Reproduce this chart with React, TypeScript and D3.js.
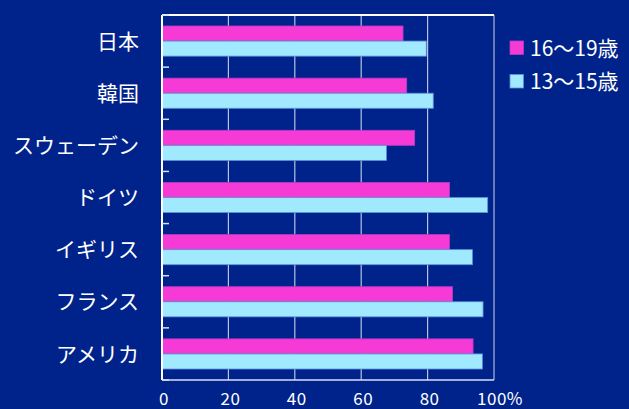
import React, { useEffect, useRef } from "react";
import * as d3 from "d3";

const countries: string[] = ["日本", "韓国", "スウェーデン", "ドイツ", "イギリス", "フランス", "アメリカ"];
const age16to19: number[] = [72.6, 73.7, 76.1, 86.6, 86.6, 87.5, 93.7];
const age13to15: number[] = [79.6, 81.7, 67.6, 98.1, 93.5, 96.7, 96.5];
const seriesNames: string[] = ["16〜19歳", "13〜15歳"];
const xTicks: number[] = [0, 20, 40, 60, 80, 100];

const colors = ["#f53ad6", "#a0e9ff"];
const strokes = ["#b23cc8", "#5f8fd8"];
const bg = "#00238b";
const font = "'Noto Sans CJK JP', 'Noto Sans', sans-serif";

const App: React.FC = () => {
  const ref = useRef<SVGSVGElement>(null);

  useEffect(() => {
    if (!ref.current) return;
    const width = 629;
    const height = 409;
    const margin = { top: 15, right: 135, bottom: 29, left: 162 };
    const svg = d3.select(ref.current);
    svg.selectAll("*").remove();

    svg.append("rect").attr("width", width).attr("height", height).attr("fill", bg);

    const x = d3.scaleLinear().domain([0, 100]).range([margin.left, width - margin.right]);
    const y = d3
      .scaleBand<string>()
      .domain(countries)
      .range([margin.top, height - margin.bottom]);
    const inner = d3
      .scaleBand<string>()
      .domain(seriesNames)
      .range([0, y.bandwidth()])
      .paddingOuter(0.73)
      .paddingInner(0);

    // grid lines
    svg
      .selectAll("line.grid")
      .data(xTicks.slice(1, -1))
      .enter()
      .append("line")
      .attr("x1", (d) => x(d))
      .attr("x2", (d) => x(d))
      .attr("y1", margin.top)
      .attr("y2", height - margin.bottom)
      .attr("stroke", "#b8c0e0")
      .attr("stroke-width", 1.2);

    // right border
    svg
      .append("line")
      .attr("x1", x(100))
      .attr("x2", x(100))
      .attr("y1", margin.top)
      .attr("y2", height - margin.bottom)
      .attr("stroke", "#8a98c8")
      .attr("stroke-width", 1.5);

    const series = [age16to19, age13to15];
    series.forEach((vals, si) => {
      svg
        .selectAll(`rect.s${si}`)
        .data(vals)
        .enter()
        .append("rect")
        .attr("x", x(0))
        .attr("y", (d, i) => (y(countries[i]) as number) + (inner(seriesNames[si]) as number))
        .attr("width", (d) => x(d) - x(0))
        .attr("height", inner.bandwidth())
        .attr("fill", colors[si])
        .attr("stroke", strokes[si])
        .attr("stroke-width", 0.8);
    });

    // top border and bottom border
    svg
      .append("line")
      .attr("x1", x(0))
      .attr("x2", x(100))
      .attr("y1", margin.top)
      .attr("y2", margin.top)
      .attr("stroke", "#ffffff")
      .attr("stroke-width", 2);
    svg
      .append("line")
      .attr("x1", x(0))
      .attr("x2", x(100))
      .attr("y1", height - margin.bottom)
      .attr("y2", height - margin.bottom)
      .attr("stroke", "#d8def0")
      .attr("stroke-width", 1.5);

    // left axis
    svg
      .append("line")
      .attr("x1", x(0))
      .attr("x2", x(0))
      .attr("y1", margin.top)
      .attr("y2", height - margin.bottom)
      .attr("stroke", "#ffffff")
      .attr("stroke-width", 2);
    const tickYs = countries.map((c) => y(c) as number).concat([height - margin.bottom]);
    svg
      .selectAll("line.ytick")
      .data(tickYs)
      .enter()
      .append("line")
      .attr("x1", x(0))
      .attr("x2", x(0) + 7)
      .attr("y1", (d) => d)
      .attr("y2", (d) => d)
      .attr("stroke", "#d8def0")
      .attr("stroke-width", 1.5);

    // category labels
    svg
      .selectAll("text.cat")
      .data(countries)
      .enter()
      .append("text")
      .attr("x", x(0) - 23)
      .attr("y", (d) => (y(d) as number) + y.bandwidth() / 2 + 2)
      .attr("text-anchor", "end")
      .attr("dominant-baseline", "middle")
      .attr("fill", "#ffffff")
      .style("font-family", font)
      .style("font-size", "21px")
      .text((d) => d);

    // x tick labels
    svg
      .selectAll("text.xt")
      .data(xTicks)
      .enter()
      .append("text")
      .attr("x", (d) => x(d) + (d === 100 ? 6 : 2))
      .attr("y", height - 4)
      .attr("text-anchor", "middle")
      .attr("fill", "#ffffff")
      .style("font-family", font)
      .style("font-size", "17px")
      .style("letter-spacing", "0.5px")
      .text((d) => (d === 100 ? "100%" : String(d)));

    // legend
    const legend = svg.append("g").attr("transform", `translate(510, 41)`);
    seriesNames.forEach((name, i) => {
      const g = legend.append("g").attr("transform", `translate(0, ${i * 33.5})`);
      g.append("rect")
        .attr("width", 13.5)
        .attr("height", 13.5)
        .attr("fill", colors[i])
        .attr("stroke", strokes[i])
        .attr("stroke-width", 0.8);
      g.append("text")
        .attr("x", 20)
        .attr("y", 9)
        .attr("dominant-baseline", "middle")
        .attr("fill", "#ffffff")
        .style("font-family", font)
        .style("font-size", "21px")
        .text(name);
    });
  }, []);

  return (
    <svg
      ref={ref}
      width={629}
      height={409}
      style={{ position: "absolute", left: 0, top: 0, display: "block" }}
    />
  );
};

export default App;
